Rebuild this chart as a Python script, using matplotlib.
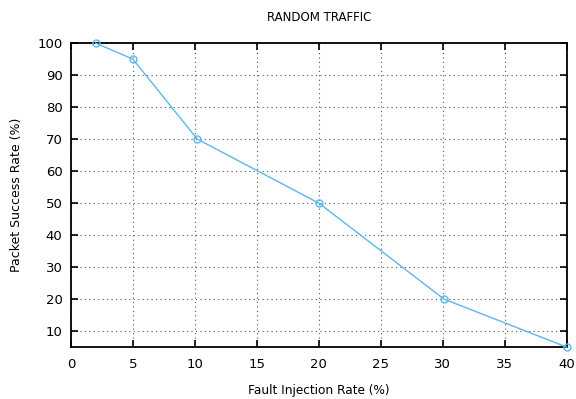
import matplotlib
matplotlib.use("Agg")
import matplotlib.pyplot as plt

fault_rate = [2, 5, 10.2, 20, 30.1, 40]
success_rate = [100, 95, 70, 50, 20, 5]
x_ticks = [0, 5, 10, 15, 20, 25, 30, 35, 40]
y_ticks = [10, 20, 30, 40, 50, 60, 70, 80, 90, 100]

plt.rcParams['font.family'] = ['DejaVu Sans']
fig = plt.figure(figsize=(5.76, 3.99), dpi=100)
ax = fig.add_axes([0.123, 0.130, 0.861, 0.762])

ax.plot(fault_rate, success_rate, color='#5cb8ea', lw=1.0, marker='o', ms=5,
        mfc='none', mec='#5cb8ea', mew=1.0, clip_on=False, zorder=3)

ax.set_xlim(0, 40)
ax.set_ylim(5, 100)
ax.set_xticks(x_ticks)
ax.set_yticks(y_ticks)
ax.grid(True, color='#555555', linestyle=(0, (1, 3)), linewidth=0.8)
ax.tick_params(direction='in', top=True, right=True, length=5, width=1.2,
               labelsize=9.5, pad=8)
ax.tick_params(axis='y', pad=6)
for s in ax.spines.values():
    s.set_linewidth(1.3)

ax.set_title('RANDOM TRAFFIC', fontsize=8.5, pad=16)
ax.set_xlabel('Fault Injection Rate (%)', fontsize=8.7, labelpad=9)
ax.set_ylabel('Packet Success Rate (%)', fontsize=9, labelpad=10)

fig.savefig('out.png', dpi=100)
